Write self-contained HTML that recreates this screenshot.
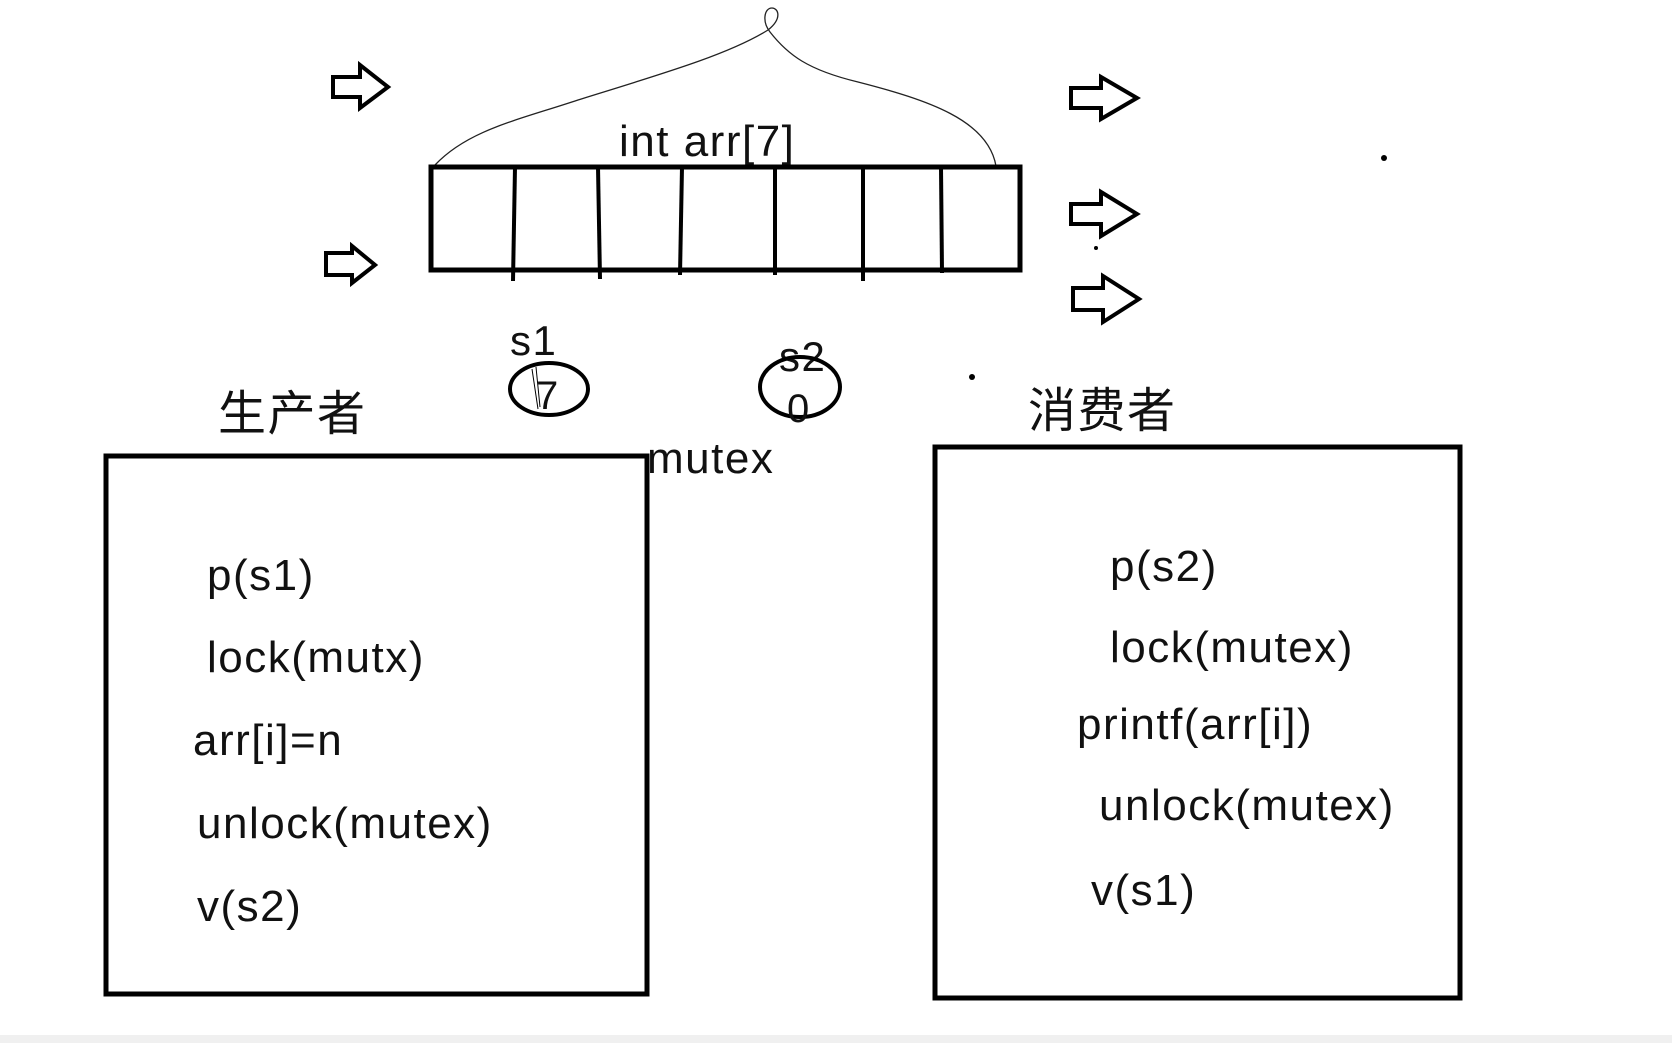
<!DOCTYPE html>
<html><head><meta charset="utf-8"><style>
html,body{margin:0;padding:0;background:#fff;}
svg{display:block;}
text{font-family:"Liberation Sans","Noto Sans CJK SC",sans-serif;fill:#111;letter-spacing:1.5px;}
</style></head><body>
<svg width="1672" height="1043" viewBox="0 0 1672 1043" xmlns="http://www.w3.org/2000/svg">
<rect x="0" y="0" width="1672" height="1043" fill="#fff"/>
<rect x="0" y="1035" width="1672" height="8" fill="#f0f0f0"/>
<path d="M435,165 C468,130 518,120 578,100 C658,75 728,55 768,30 C783,18 778,8 772,8 C764,8 762,22 770,32 C788,55 808,70 858,82 C928,100 988,120 996,166" fill="none" stroke="#222" stroke-width="1.3"/>
<text x="619" y="156" font-size="44">int arr[7]</text>
<rect x="431" y="167" width="589" height="103" fill="none" stroke="#000" stroke-width="5"/>
<g stroke="#000" stroke-width="4">
<line x1="515" y1="167" x2="513" y2="281"/><line x1="598" y1="167" x2="600" y2="279"/>
<line x1="682" y1="167" x2="680" y2="275"/><line x1="775" y1="167" x2="775" y2="275"/>
<line x1="863" y1="167" x2="863" y2="281"/><line x1="941" y1="167" x2="942" y2="273"/>
</g>
<g fill="none" stroke="#000" stroke-width="4">
<path d="M333,77 H360 V65 L388,87 L360,108 V97 H333 Z"/>
<path d="M326,253 H352 V246 L375,265 L352,283 V275 H326 Z"/>
<path d="M1071,88 H1101 V77 L1137,98 L1101,119 V108 H1071 Z"/>
<path d="M1071,204 H1101 V192 L1137,214 L1101,236 V224 H1071 Z"/>
<path d="M1073,288 H1103 V276 L1139,299 L1103,322 V310 H1073 Z"/>
</g>
<circle cx="1384" cy="158" r="3" fill="#000"/>
<circle cx="1096" cy="248" r="2" fill="#000"/>
<circle cx="972" cy="377" r="3" fill="#000"/>
<text x="510" y="355" font-size="42">s1</text>
<ellipse cx="549" cy="389" rx="39" ry="26" fill="none" stroke="#000" stroke-width="4"/>
<text x="536" y="409" font-size="40">7</text>
<path d="M532,369 L538,409 M536,367 L540,407" stroke="#000" stroke-width="1"/>
<text x="779" y="371" font-size="42">s2</text>
<ellipse cx="800" cy="387" rx="40" ry="30" fill="none" stroke="#000" stroke-width="4"/>
<text x="787" y="422" font-size="40">0</text>
<text x="218" y="430" font-size="48">生产者</text>
<text x="1028" y="427" font-size="48">消费者</text>
<text x="647" y="473" font-size="44">mutex</text>
<rect x="106" y="456" width="541" height="538" fill="none" stroke="#000" stroke-width="5"/>
<rect x="935" y="447" width="525" height="551" fill="none" stroke="#000" stroke-width="5"/>
<g font-size="44">
<text x="207" y="590">p(s1)</text>
<text x="207" y="672">lock(mutx)</text>
<text x="193" y="755">arr[i]=n</text>
<text x="197" y="838">unlock(mutex)</text>
<text x="197" y="921">v(s2)</text>
<text x="1110" y="581">p(s2)</text>
<text x="1110" y="662">lock(mutex)</text>
<text x="1077" y="739">printf(arr[i])</text>
<text x="1099" y="820">unlock(mutex)</text>
<text x="1091" y="905">v(s1)</text>
</g>
</svg>
</body></html>
